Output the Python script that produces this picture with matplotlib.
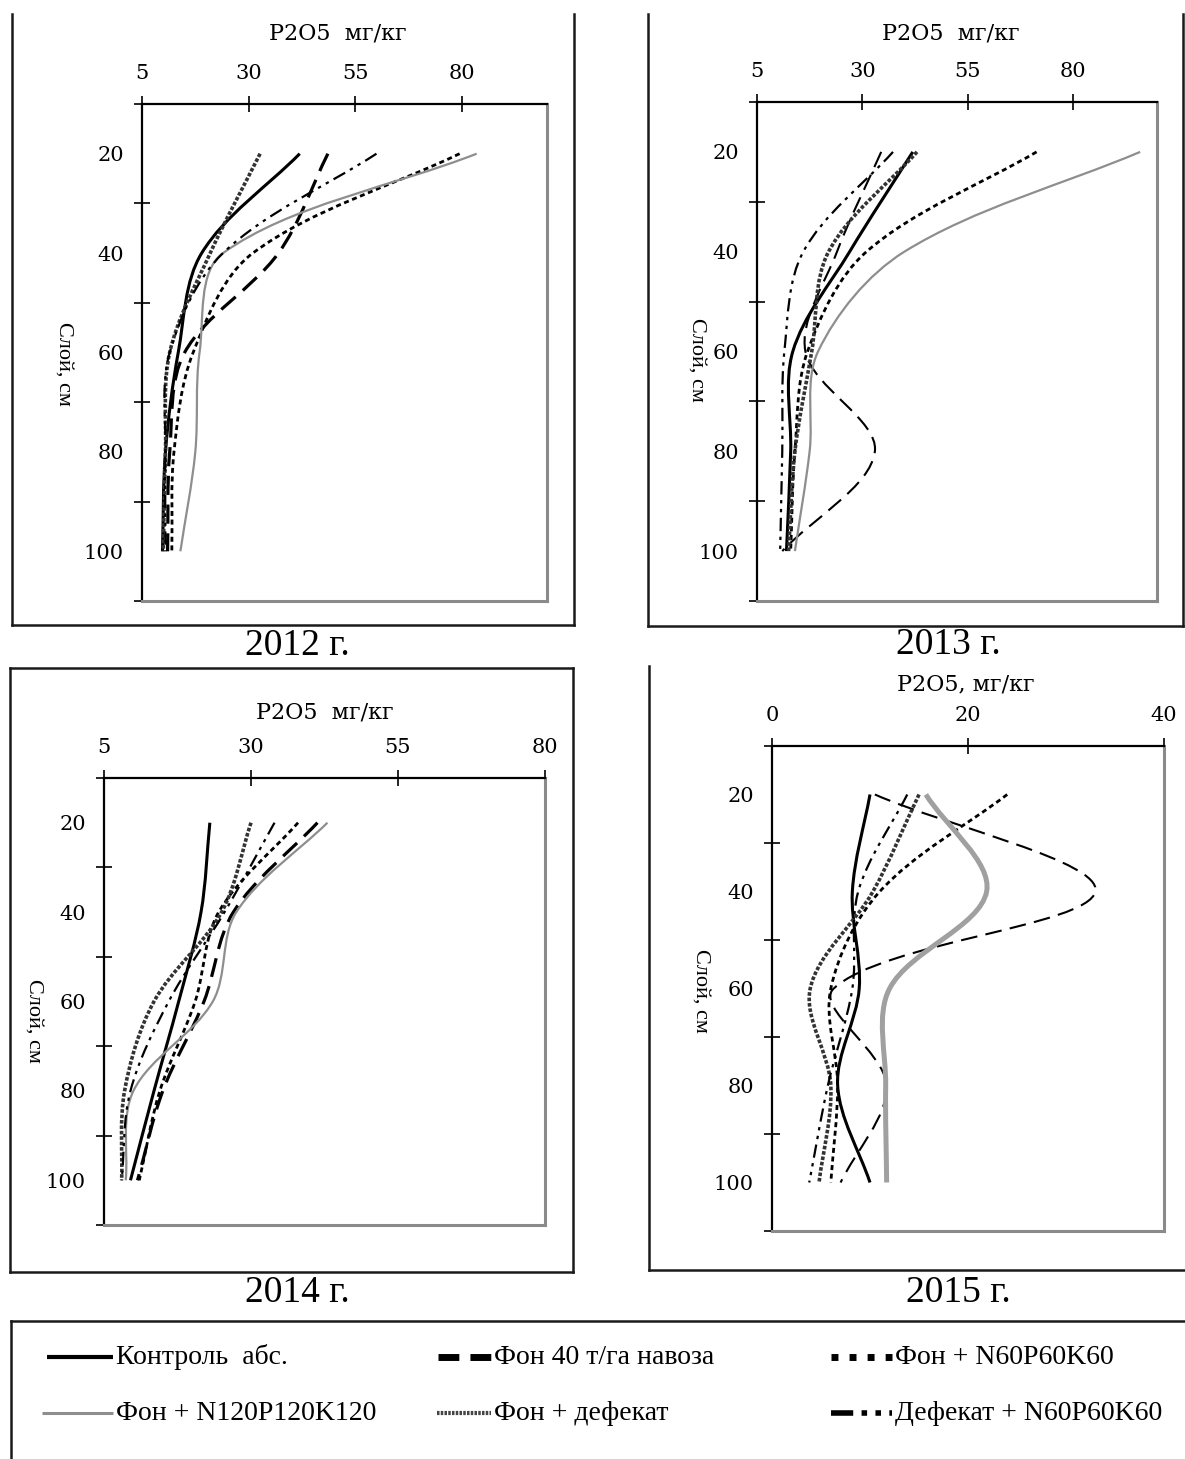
import numpy as np
import matplotlib
matplotlib.use("Agg")
import matplotlib.pyplot as plt
from matplotlib.path import Path
from matplotlib.patches import PathPatch
from matplotlib.lines import Line2D

# soil layers, cm
depth = [20, 40, 60, 80, 100]

labels = ["Контроль  абс.", "Фон 40 т/га навоза", "Фон + N60P60K60",
          "Фон + N120P120K120", "Фон + дефекат", "Дефекат + N60P60K60"]

# P2O5, mg/kg; rows follow the order of labels
p2o5_2012 = [
    [42.0, 19.0, 13.5, 10.5, 9.8],
    [48.6, 37.0, 15.0, 11.5, 11.0],
    [79.5, 31.0, 17.0, 12.5, 12.0],
    [83.5, 24.0, 18.5, 17.5, 14.0],
    [32.7, 21.0, 11.5, 10.5, 10.0],
    [60.0, 24.0, 11.5, 10.5, 10.5],
]
p2o5_2013 = [
    [42.0, 27.0, 13.5, 13.0, 12.0],
    [34.5, 24.0, 16.5, 33.0, 11.0],
    [71.4, 31.0, 17.0, 14.0, 13.0],
    [96.0, 40.0, 19.5, 17.5, 14.0],
    [43.0, 22.0, 18.0, 14.0, 12.5],
    [37.3, 16.0, 11.5, 11.0, 10.5],
]
p2o5_2014 = [
    [23.0, 21.5, 17.7, 13.5, 9.5],
    [41.3, 27.0, 22.0, 15.0, 10.7],
    [38.0, 24.5, 20.5, 14.5, 11.0],
    [43.0, 27.5, 23.5, 10.0, 8.7],
    [30.0, 25.0, 13.5, 8.5, 8.0],
    [34.0, 25.5, 16.0, 9.5, 8.0],
]
p2o5_2015 = [
    [10.0, 8.2, 8.9, 6.7, 10.0],
    [10.5, 33.0, 6.3, 11.7, 7.0],
    [24.0, 11.0, 6.0, 6.7, 6.0],
    [15.7, 21.9, 12.0, 11.6, 11.7],
    [15.0, 10.3, 3.9, 6.0, 4.8],
    [13.8, 8.8, 8.2, 5.7, 3.8],
]

styles = [
    dict(color="black", lw=2.2, ls="-"),
    dict(color="black", lw=2.3, ls=(0, (6, 3))),
    dict(color="black", lw=2.0, ls=(0, (1.8, 1.3))),
    dict(color="#8e8e8e", lw=1.6, ls="-"),
    dict(color="#333333", lw=2.6, ls=(0, (1, 0.5))),
    dict(color="black", lw=1.6, ls=(0, (6, 2.5, 1.5, 2.5, 1.5, 2.5))),
]
# some years were drawn with other weights
overrides = {
    ("2013 г.", 1): dict(lw=1.5, ls=(0, (8, 4))),
    ("2015 г.", 1): dict(lw=1.5, ls=(0, (8, 4))),
    ("2015 г.", 3): dict(lw=3.6, color="#a0a0a0"),
}
legend_styles = [
    dict(color="black", lw=3.0, ls="-"),
    dict(color="black", lw=5.0, ls=(0, (3, 1.6))),
    dict(color="black", lw=5.0, ls=(0, (1, 1.6))),
    dict(color="#8e8e8e", lw=2.2, ls="-"),
    dict(color="#444444", lw=3.0, ls=(0, (0.6, 0.3))),
    dict(color="black", lw=4.0, ls=(0, (4, 1.5, 1, 1.5, 1, 1.5))),
]

W, H = 1185, 1459
fig = plt.figure(figsize=(W / 100, H / 100), dpi=100)

SERIF = "Liberation Serif"
TICKFONT = "DejaVu Serif"


def fx(x):
    return x / W


def fy(y):
    return 1 - y / H


def smooth_path(xs, ys, sx, sy):
    # spreadsheet-style smoothed line: Bezier handles follow the
    # neighbouring points and scale with the segment lengths on screen
    pts = np.column_stack([np.asarray(xs, float) * sx, np.asarray(ys, float) * sy])
    n = len(pts)
    verts = [pts[0]]
    codes = [Path.MOVETO]
    for i in range(n - 1):
        p0 = pts[i - 1] if i > 0 else pts[i]
        p1, p2 = pts[i], pts[i + 1]
        p3 = pts[i + 2] if i + 2 < n else pts[i + 1]
        d01 = np.hypot(*(p1 - p0))
        d12 = np.hypot(*(p2 - p1))
        d23 = np.hypot(*(p3 - p2))
        c1 = p1 + (p2 - p0) * d12 / (d01 + d12) / 3
        c2 = p2 - (p3 - p1) * d12 / (d12 + d23) / 3
        verts += [c1, c2, p2]
        codes += [Path.CURVE4] * 3
    return Path(np.array(verts) / [sx, sy], codes)


def frame(x0, y0, x1, y1, top=True, right=True):
    segs = [((x0, y0), (x0, y1)), ((x0, y1), (x1, y1))]
    if top:
        segs.append(((x0, y0), (x1, y0)))
    if right:
        segs.append(((x1, y0), (x1, y1)))
    for (a, b), (c, d) in segs:
        fig.add_artist(Line2D([fx(a), fx(c)], [fy(b), fy(d)], color="#1a1a1a", lw=1.8))


panels = [
    dict(year="2012 г.", data=p2o5_2012, box=(142, 104, 547, 601), xlim=(5, 100),
         xticks=[5, 30, 55, 80], xlabel="P2O5  мг/кг", xl=(338, 34), yl=(64, 364),
         yr=(297, 646), frame=(12, 14, 574, 625, False, True)),
    dict(year="2013 г.", data=p2o5_2013, box=(757, 102, 1157, 601), xlim=(5, 100),
         xticks=[5, 30, 55, 80], xlabel="P2O5  мг/кг", xl=(951, 34), yl=(697, 360),
         yr=(948, 645), frame=(648, 14, 1183, 626, False, True)),
    dict(year="2014 г.", data=p2o5_2014, box=(104, 778, 545, 1225), xlim=(5, 80),
         xticks=[5, 30, 55, 80], xlabel="P2O5  мг/кг", xl=(325, 712), yl=(34, 1021),
         yr=(297, 1293), frame=(10, 668, 573, 1272, True, True)),
    dict(year="2015 г.", data=p2o5_2015, box=(772, 746, 1164, 1231), xlim=(0, 40),
         xticks=[0, 20, 40], xlabel="P2O5, мг/кг", xl=(966, 684), yl=(701, 991),
         yr=(958, 1293), frame=(649, 666, 1200, 1270, False, False)),
]

for p in panels:
    x0, y0, x1, y1 = p["box"]
    ax = fig.add_axes([fx(x0), fy(y1), (x1 - x0) / W, (y1 - y0) / H])
    ax.set_xlim(*p["xlim"])
    ax.set_ylim(110, 10)
    sx = (x1 - x0) / (p["xlim"][1] - p["xlim"][0])
    sy = (y1 - y0) / 100.0

    for k, (vals, st) in enumerate(zip(p["data"], styles)):
        st = {**st, **overrides.get((p["year"], k), {})}
        patch = PathPatch(smooth_path(vals, depth, sx, sy), fill=False,
                          edgecolor=st["color"], lw=st["lw"], ls=st["ls"],
                          transform=ax.transData)
        ax.add_patch(patch)

    ax.xaxis.tick_top()
    ax.set_xticks(p["xticks"])
    ax.set_xticklabels([str(t) for t in p["xticks"]], fontfamily=TICKFONT, fontsize=15)
    ax.set_yticks([10, 30, 50, 70, 90, 110])
    ax.set_yticklabels([])
    ax.set_yticks(depth, minor=True)
    ax.set_yticklabels([str(d) for d in depth], minor=True, fontfamily=TICKFONT, fontsize=15)
    ax.tick_params(which="major", direction="inout", length=12, width=1.2, color="black")
    ax.tick_params(axis="x", which="major", pad=9)
    ax.tick_params(axis="y", which="minor", length=0, pad=13)
    ax.tick_params(axis="x", which="minor", length=0)

    for side in ("left", "top"):
        ax.spines[side].set_color("black")
        ax.spines[side].set_linewidth(1.6)
    for side in ("right", "bottom"):
        ax.spines[side].set_color("#8a8a8a")
        ax.spines[side].set_linewidth(2.2)

    fig.text(fx(p["xl"][0]), fy(p["xl"][1]), p["xlabel"], fontfamily=TICKFONT,
             fontsize=16, ha="center", va="center")
    fig.text(fx(p["yl"][0]), fy(p["yl"][1]), "Слой, см", fontfamily=SERIF,
             fontsize=16, rotation=270, ha="center", va="center")
    fig.text(fx(p["yr"][0]), fy(p["yr"][1]), p["year"], fontfamily=SERIF,
             fontsize=27, ha="center", va="center")
    frame(*p["frame"])

# legend box, open at the right and bottom edges
frame(11, 1321, 1200, 1470, True, False)

legend_pos = [(47, 113, 1357), (438, 491, 1357), (831, 892, 1357),
              (42, 113, 1413), (437, 491, 1413), (831, 892, 1413)]
for (a, b, y), st, name in zip(legend_pos, legend_styles, labels):
    fig.add_artist(Line2D([fx(a), fx(b)], [fy(y), fy(y)], color=st["color"],
                          lw=st["lw"], ls=st["ls"], solid_capstyle="butt"))
    fig.text(fx(b + 3), fy(y), name, fontfamily=SERIF, fontsize=20,
             ha="left", va="center")

fig.savefig("out.png", dpi=100, facecolor="white")
